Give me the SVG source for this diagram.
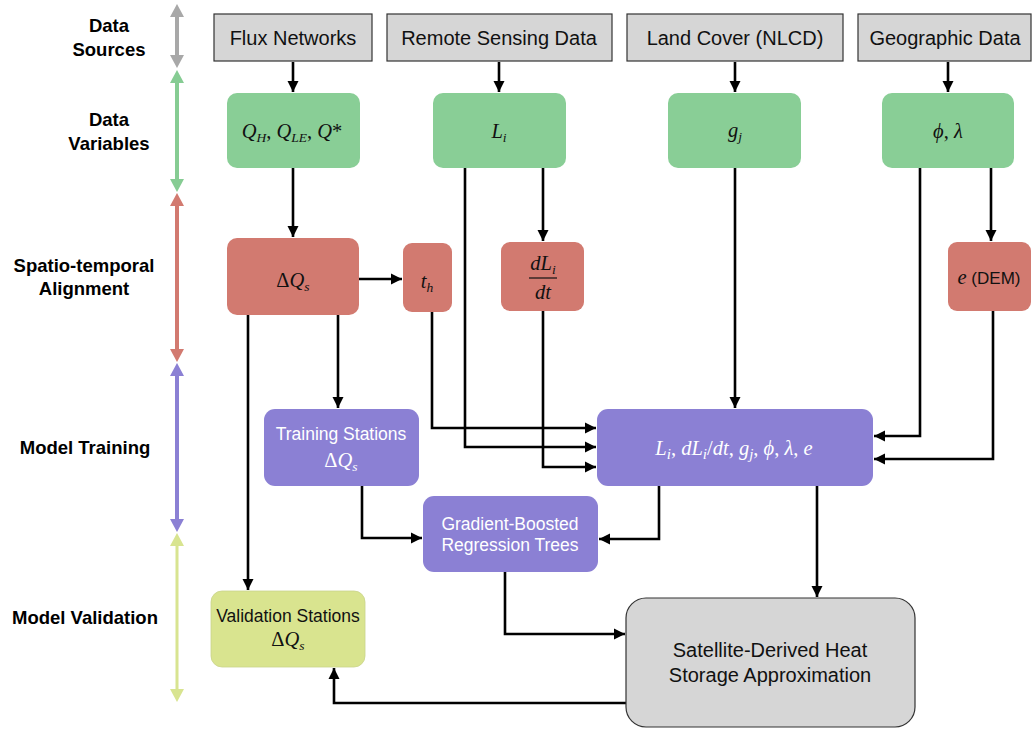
<svg xmlns="http://www.w3.org/2000/svg" width="1032" height="729" viewBox="0 0 1032 729">
<defs>
<marker id="ah" markerUnits="userSpaceOnUse" markerWidth="12" markerHeight="12" viewBox="0 0 12 12" refX="11" refY="6" orient="auto">
<path d="M0,0.5 L11,6 L0,11.5 z" fill="#000"/>
</marker>
<style>
.lbl{font-family:"Liberation Sans",Arial,sans-serif;font-weight:bold;font-size:18.5px;fill:#000;text-anchor:middle}
.src{fill:#d6d6d6;stroke:#333;stroke-width:1.2}
.srct{font-family:"Liberation Sans",Arial,sans-serif;font-size:20px;fill:#111;text-anchor:middle}
.var{fill:#89ce96}
.aln{fill:#d27a70}
.trn{fill:#8b80d4}
.val{fill:#d9e48f}
.sat{fill:#d6d6d6;stroke:#333;stroke-width:1.2}
.m{font-family:"Liberation Serif","DejaVu Serif",serif;font-style:italic;font-size:20.5px;fill:#111;text-anchor:middle}
.up{font-style:normal}
.w{fill:#fff}
.bt{font-family:"Liberation Sans",Arial,sans-serif;font-size:17.5px;text-anchor:middle}
.conn path{fill:none;stroke:#000;stroke-width:2.6;marker-end:url(#ah)}
</style>
</defs>
<rect width="1032" height="729" fill="#fff"/>

<g id="row-labels">
<text class="lbl" x="109" y="32">Data</text>
<text class="lbl" x="109" y="56">Sources</text>
<text class="lbl" x="109" y="126">Data</text>
<text class="lbl" x="109" y="150">Variables</text>
<text class="lbl" x="84" y="272">Spatio-temporal</text>
<text class="lbl" x="84" y="295">Alignment</text>
<text class="lbl" x="85" y="454">Model Training</text>
<text class="lbl" x="85" y="624">Model Validation</text>
</g>

<g id="axis">
<g fill="#a8a8a8"><rect x="175" y="15" width="4" height="42"/><polygon points="170,17 177,4 184,17"/><polygon points="170,55 177,68 184,55"/></g>
<g fill="#86cc93"><rect x="175" y="81" width="4" height="100"/><polygon points="170,83 177,70 184,83"/><polygon points="170,179 177,192 184,179"/></g>
<g fill="#d27a70"><rect x="175" y="204" width="4" height="147"/><polygon points="170,206 177,193 184,206"/><polygon points="170,349 177,362 184,349"/></g>
<g fill="#8b80d4"><rect x="175" y="374" width="4" height="147"/><polygon points="170,376 177,363 184,376"/><polygon points="170,519 177,532 184,519"/></g>
<g fill="#d8e490"><rect x="175.5" y="544" width="3" height="147"/><polygon points="170,546 177,533 184,546"/><polygon points="170,689 177,702 184,689"/></g>
</g>

<g class="conn" id="connectors">
<path d="M293,62 V92"/>
<path d="M499,62 V92"/>
<path d="M735,62 V92"/>
<path d="M948,62 V92"/>
<path d="M293,168 V237"/>
<path d="M359,279 H402"/>
<path d="M543,168 V241"/>
<path d="M991,168 V241"/>
<path d="M465,168 V447 H596"/>
<path d="M432,312 V428 H596"/>
<path d="M543,311 V467 H596"/>
<path d="M735,168 V408"/>
<path d="M920,168 V436 H874"/>
<path d="M993,311 V459 H874"/>
<path d="M338,315 V408"/>
<path d="M248,315 V590"/>
<path d="M362,486 V538 H422"/>
<path d="M659,486 V539 H599"/>
<path d="M817,486 V597"/>
<path d="M505,572 V634 H625"/>
<path d="M626,703 H334 V668"/>
</g>

<g id="flux-networks"><rect class="src" x="214" y="14" width="158" height="47"/><text class="srct" x="293" y="45">Flux Networks</text></g>
<g id="remote-sensing"><rect class="src" x="387" y="14" width="225" height="47"/><text class="srct" x="499" y="45">Remote Sensing Data</text></g>
<g id="land-cover"><rect class="src" x="627" y="14" width="216" height="47"/><text class="srct" x="735" y="45">Land Cover (NLCD)</text></g>
<g id="geographic"><rect class="src" x="858" y="14" width="173" height="47"/><text class="srct" x="945" y="45">Geographic Data</text></g>

<g id="var-q"><rect class="var" x="227" y="93" width="133" height="75" rx="10"/>
<text class="m" x="292" y="138">Q<tspan font-size="13.5" dy="4">H</tspan><tspan class="up" dy="-4">, </tspan>Q<tspan font-size="13.5" dy="4">LE</tspan><tspan class="up" dy="-4">, </tspan>Q<tspan class="up">*</tspan></text></g>
<g id="var-li"><rect class="var" x="433" y="93" width="133" height="75" rx="10"/>
<text class="m" x="499" y="138">L<tspan font-size="13.5" dy="4">i</tspan></text></g>
<g id="var-gj"><rect class="var" x="668" y="93" width="133" height="75" rx="10"/>
<text class="m" x="735" y="137">g<tspan font-size="13.5" dy="4">j</tspan></text></g>
<g id="var-phi"><rect class="var" x="882" y="93" width="132" height="75" rx="10"/>
<text class="m" x="948" y="138">ϕ<tspan class="up">, </tspan>λ</text></g>

<g id="aln-dqs"><rect class="aln" x="227" y="238" width="132" height="77" rx="10"/>
<text class="m" x="293" y="287"><tspan class="up">Δ</tspan>Q<tspan font-size="13.5" dy="4">s</tspan></text></g>
<g id="aln-th"><rect class="aln" x="403" y="243" width="49" height="69" rx="9"/>
<text class="m" x="427" y="288">t<tspan font-size="13.5" dy="4">h</tspan></text></g>
<g id="aln-dlidt"><rect class="aln" x="501" y="242" width="83" height="69" rx="9"/>
<text class="m" x="543" y="270">dL<tspan font-size="13.5" dy="4">i</tspan></text>
<line x1="529" y1="278" x2="557" y2="278" stroke="#111" stroke-width="1.2"/>
<text class="m" x="543" y="299">dt</text></g>
<g id="aln-e"><rect class="aln" x="948" y="242" width="83" height="69" rx="9"/>
<text class="m" x="989" y="284">e<tspan class="up" font-family="Liberation Sans,Arial,sans-serif" font-size="17"> (DEM)</tspan></text></g>

<g id="features"><rect class="trn" x="597" y="409" width="276" height="77" rx="11"/>
<text class="m w" x="734" y="455" font-size="23">L<tspan font-size="15" dy="4">i</tspan><tspan class="up" dy="-4">, </tspan>dL<tspan font-size="15" dy="4">i</tspan><tspan class="up" dy="-4">/</tspan>dt<tspan class="up">, </tspan>g<tspan font-size="15" dy="4">j</tspan><tspan class="up" dy="-4">, </tspan>ϕ<tspan class="up">, </tspan>λ<tspan class="up">, </tspan>e</text></g>

<g id="training-stations"><rect class="trn" x="264" y="409" width="155" height="77" rx="11"/>
<text class="bt w" x="341" y="440">Training Stations</text>
<text class="m w" x="341" y="467"><tspan class="up">Δ</tspan>Q<tspan font-size="13.5" dy="4">s</tspan></text></g>

<g id="gbrt"><rect class="trn" x="423" y="496" width="175" height="76" rx="11"/>
<text class="bt w" x="510" y="530">Gradient-Boosted</text>
<text class="bt w" x="510" y="551">Regression Trees</text></g>

<g id="validation-stations"><rect class="val" x="211" y="591" width="154" height="76" rx="11" stroke="#c9d38a" stroke-width="0.8"/>
<text class="bt" x="288" y="622" fill="#111">Validation Stations</text>
<text class="m" x="288" y="646"><tspan class="up">Δ</tspan>Q<tspan font-size="13.5" dy="4">s</tspan></text></g>

<g id="satellite"><rect class="sat" x="626" y="598" width="289" height="129" rx="20"/>
<text class="srct" x="770" y="657" font-size="21.5">Satellite-Derived Heat</text>
<text class="srct" x="770" y="682" font-size="21.5">Storage Approximation</text></g>
</svg>
